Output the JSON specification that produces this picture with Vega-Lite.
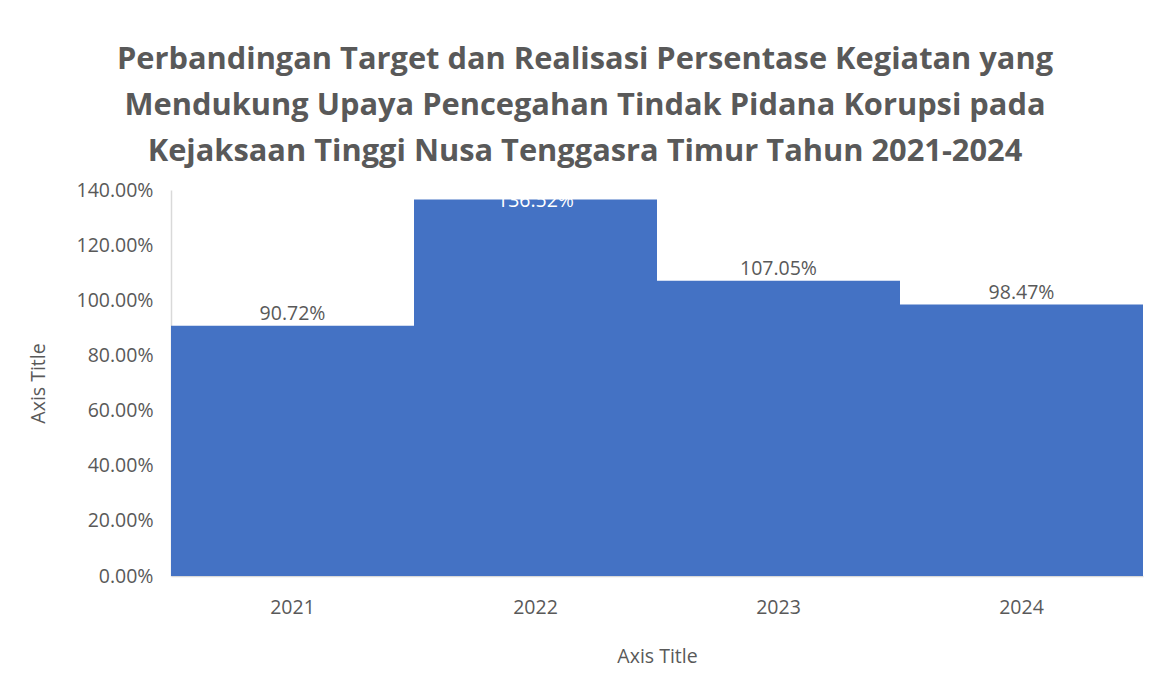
{
  "$schema": "https://vega.github.io/schema/vega-lite/v6.json",
  "width": 972,
  "height": 386,
  "autosize": {"type": "none"},
  "padding": {"left": 171, "top": 190, "right": 9, "bottom": 101},
  "background": "white",
  "title": {
    "text": ["Perbandingan Target dan Realisasi Persentase Kegiatan yang", "Mendukung Upaya Pencegahan Tindak Pidana Korupsi pada", "Kejaksaan Tinggi Nusa Tenggasra Timur Tahun 2021-2024"],
    "font": "Open Sans",
    "fontSize": 30.8,
    "fontWeight": "bold",
    "color": "#595959",
    "lineHeight": 46,
    "anchor": "middle",
    "dx": -72,
    "offset": 12
  },
  "data": {
    "values": [
      {"year": "2021", "value": 0.9072},
      {"year": "2022", "value": 1.3652},
      {"year": "2023", "value": 1.0705},
      {"year": "2024", "value": 0.9847}
    ]
  },
  "encoding": {
    "x": {
      "field": "year", "type": "nominal", "title": "Axis Title",
      "scale": {"paddingInner": 0, "paddingOuter": 0},
      "axis": {"labelAngle": 0, "ticks": false, "labelPadding": 22, "titlePadding": 31, "domainColor": "#D9D9D9", "domainWidth": 1.5}
    },
    "y": {
      "field": "value", "type": "quantitative", "title": "Axis Title",
      "scale": {"domain": [0, 1.4]},
      "axis": {"format": ".2%", "values": [0, 0.2, 0.4, 0.6, 0.8, 1.0, 1.2, 1.4], "labelOverlap": false, "labelBound": false, "grid": false, "ticks": false, "labelPadding": 18, "titlePadding": 28, "domainColor": "#D9D9D9", "domainWidth": 1.5}
    }
  },
  "layer": [
    {"mark": {"type": "bar", "color": "#4472C4", "clip": true}},
    {
      "transform": [{"filter": "datum.year != '2022'"}],
      "mark": {"type": "text", "font": "Open Sans", "fontSize": 19.5, "color": "#595959", "baseline": "bottom", "dy": -2},
      "encoding": {"text": {"field": "value", "format": ".2%"}}
    },
    {
      "transform": [{"filter": "datum.year == '2022'"}],
      "mark": {"type": "text", "font": "Open Sans", "fontSize": 19.5, "color": "white", "baseline": "middle", "dy": 1},
      "encoding": {"text": {"field": "value", "format": ".2%"}}
    }
  ],
  "config": {
    "view": {"stroke": null},
    "axis": {
      "labelFont": "Open Sans", "labelFontSize": 19.5, "labelColor": "#595959",
      "titleFont": "Open Sans", "titleFontSize": 19.5, "titleFontWeight": "normal", "titleColor": "#595959"
    }
  }
}
